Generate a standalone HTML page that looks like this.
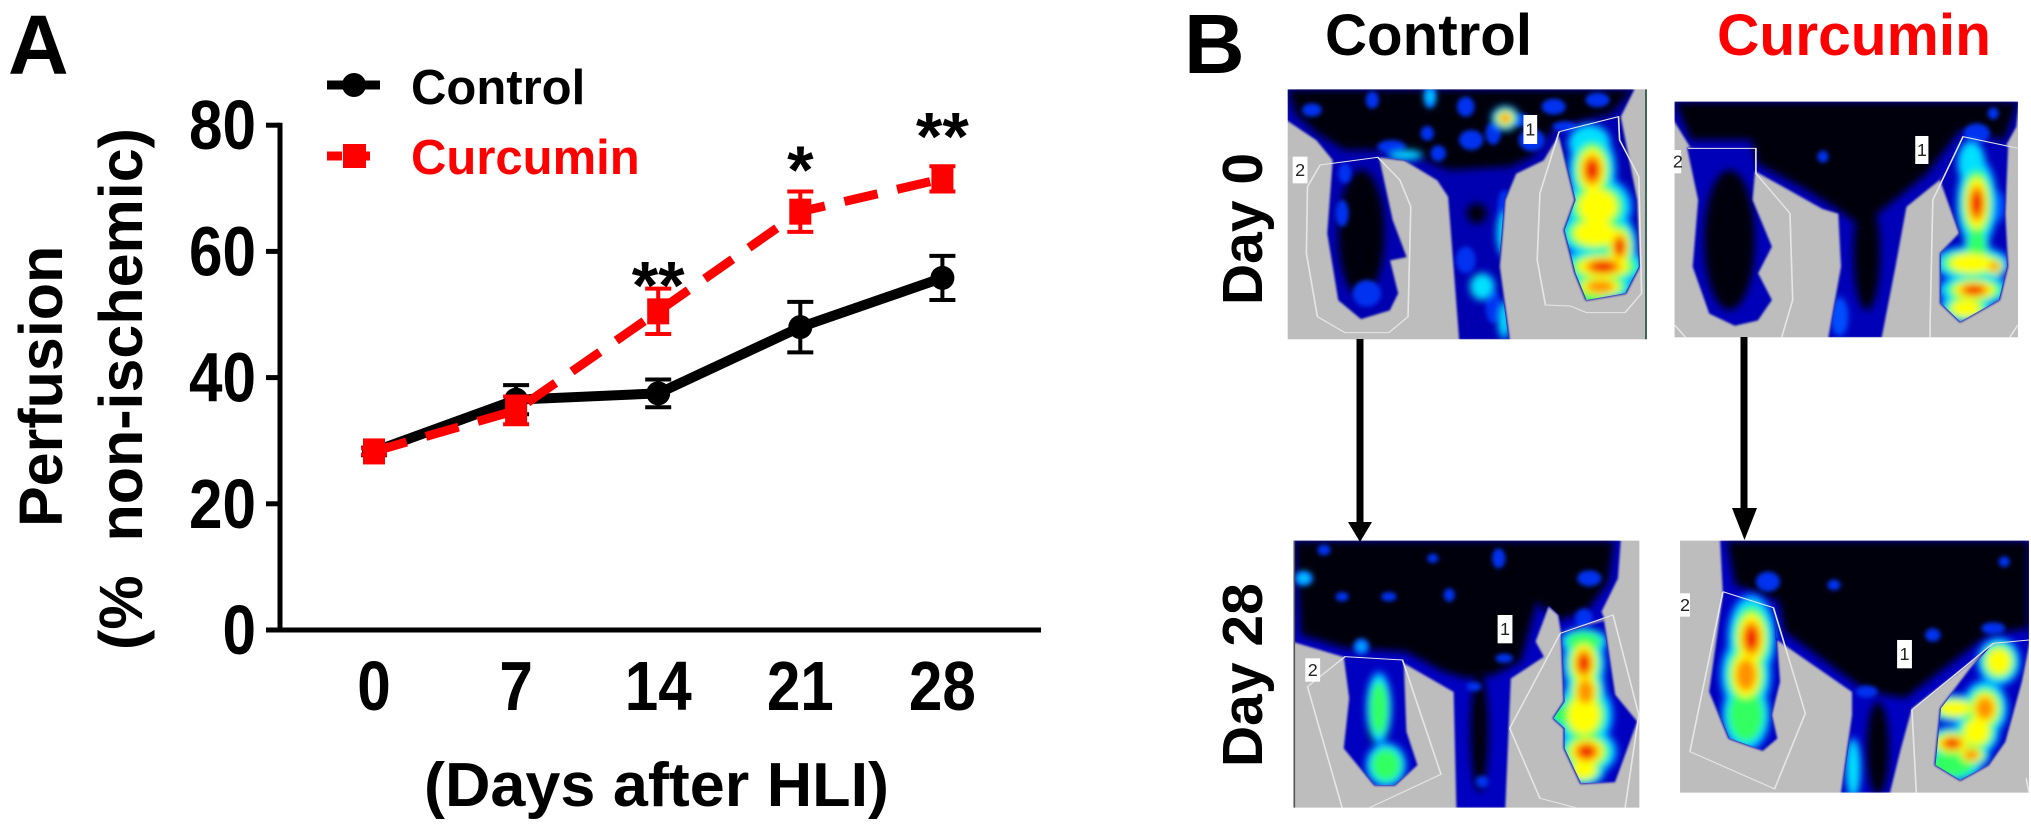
<!DOCTYPE html>
<html lang="en">
<head>
<meta charset="utf-8">
<title>Perfusion after HLI: Control vs Curcumin</title>
<style>
html,body{margin:0;padding:0;background:#fff;width:2031px;height:830px;overflow:hidden}
svg{display:block}
text{font-family:"Liberation Sans",sans-serif;font-weight:bold}
</style>
</head>
<body>
<svg id="fig" width="2031" height="830" viewBox="0 0 2031 830" xmlns="http://www.w3.org/2000/svg">
<defs>
<filter id="heatBlur" x="-10%" y="-10%" width="120%" height="120%"><feGaussianBlur stdDeviation="7 11"/></filter>
<filter id="darkBlur" x="-10%" y="-10%" width="120%" height="120%"><feGaussianBlur stdDeviation="7 11"/></filter>
<filter id="speckBlur" x="-5%" y="-5%" width="110%" height="110%"><feGaussianBlur stdDeviation="4 6"/></filter>
<filter id="edgeBlur" x="-10%" y="-10%" width="120%" height="120%"><feGaussianBlur stdDeviation="2 3"/></filter>
</defs>
<rect width="2031" height="830" fill="#fff"/>
<text x="8" y="74" font-size="84">A</text>
<text x="1184" y="73" font-size="84">B</text>

<g id="chart"></g>

<text transform="translate(62,527) rotate(-90)" font-size="61">Perfusion</text>
<text transform="translate(142,650) rotate(-90)" font-size="61" xml:space="preserve">(%  non-ischemic)</text>
<text x="424" y="806" font-size="62" textLength="465" lengthAdjust="spacingAndGlyphs">(Days after HLI)</text>

<g>
<line x1="327" y1="85" x2="380" y2="85" stroke="#000" stroke-width="9"/>
<circle cx="354" cy="85" r="12" fill="#000"/>
<text x="411" y="104" font-size="49">Control</text>
<line x1="327" y1="156" x2="380" y2="156" stroke="#f00" stroke-width="9" stroke-dasharray="15 13 0 0"/>
<rect x="343" y="144" width="23" height="24" fill="#f00"/>
<text x="411" y="174" font-size="49" fill="#f00">Curcumin</text>
</g>

<text x="1325" y="55" font-size="58" textLength="207" lengthAdjust="spacingAndGlyphs">Control</text>
<text x="1717" y="55" font-size="58" fill="#f00" textLength="274" lengthAdjust="spacingAndGlyphs">Curcumin</text>
<text transform="translate(1262,305) rotate(-90)" font-size="57">Day 0</text>
<text transform="translate(1262,767) rotate(-90)" font-size="57">Day 28</text>

<g id="images"></g>

<g>
<rect x="1356.5" y="339" width="7" height="186" fill="#000"/>
<polygon points="1348,522 1372,522 1360,542" fill="#000"/>
</g>
<g>
<rect x="1740.5" y="337" width="7" height="174" fill="#000"/>
<polygon points="1732,508 1757,508 1744.5,540" fill="#000"/>
</g>
</svg>

<script>
/* ---------- chart data ---------- */
var days = [0, 7, 14, 21, 28];
var dayLabels = ["0", "7", "14", "21", "28"];
var controlValues = [28.3, 36.5, 37.5, 48, 55.8];
var controlErrors = [0.6, 2.3, 2.2, 4, 3.5];
var curcuminValues = [28.3, 34.8, 50.5, 66.3, 71.5];
var curcuminErrors = [0.5, 2.2, 3.6, 3.2, 2];
var yTicks = [0, 20, 40, 60, 80];
var starLabels = ["", "", "**", "*", "**"];
var starLevels = [0, 0, 57, 75.3, 80.6];

var NS = "http://www.w3.org/2000/svg";
function mk(parent, tag, attrs) {
  var e = document.createElementNS(NS, tag);
  for (var k in attrs) e.setAttribute(k, attrs[k]);
  parent.appendChild(e);
  return e;
}
function xScale(d) { return 374 + d * 20.3; }
function yScale(v) { return 630 - v * 6.31; }

var chart = document.getElementById("chart");

/* axes */
var yAxis = mk(chart, "line", {x1: 280, y1: yScale(80) - 2.5, x2: 280, y2: yScale(0) + 2.5, stroke: "#000", "stroke-width": 5});


var xAxis = mk(chart, "line", {x1: 266, y1: yScale(0), x2: 1041, y2: yScale(0), stroke: "#000", "stroke-width": 5});



yTicks.forEach(function (t) {
  var tick = mk(chart, "line", {x1: 266, y1: yScale(t), x2: 280, y2: yScale(t), stroke: "#000", "stroke-width": 5});
  
  
  var lab = mk(chart, "text", {transform: "translate(256," + (yScale(t) + 24) + ") scale(0.86,1)", "font-size": 70, "text-anchor": "end"});
  lab.textContent = String(t);
  
  
});
days.forEach(function (d, i) {
  var lab = mk(chart, "text", {transform: "translate(" + xScale(d) + ",710) scale(0.86,1)", "font-size": 70, "text-anchor": "middle"});
  lab.textContent = dayLabels[i];
  
  
});

function pts(vals) {
  return days.map(function (d, i) { return xScale(d) + "," + yScale(vals[i]); }).join(" ");
}
function errorBars(vals, errs, color, nameStem) {
  days.forEach(function (d, i) {
    var x = xScale(d), top = yScale(vals[i] + errs[i]), bot = yScale(vals[i] - errs[i]);
    var stem = mk(chart, "path", {
      d: "M" + x + " " + top + "V" + bot + "M" + (x - 13) + " " + top + "H" + (x + 13) + "M" + (x - 13) + " " + bot + "H" + (x + 13),
      stroke: color, "stroke-width": 4, fill: "none"
    });
    
    
  });
}

/* control series */
errorBars(controlValues, controlErrors, "#000", "control-error-bar");
var controlLine = mk(chart, "polyline", {points: pts(controlValues), fill: "none", stroke: "#000", "stroke-width": 10});


days.forEach(function (d, i) {
  var c = mk(chart, "circle", {cx: xScale(d), cy: yScale(controlValues[i]), r: 12, fill: "#000"});
  
  
});

/* curcumin series */
errorBars(curcuminValues, curcuminErrors, "#f00", "curcumin-error-bar");
var curcuminLine = mk(chart, "polyline", {points: pts(curcuminValues), fill: "none", stroke: "#f00", "stroke-width": 9, "stroke-dasharray": "34 20"});


days.forEach(function (d, i) {
  var r = mk(chart, "rect", {x: xScale(d) - 11, y: yScale(curcuminValues[i]) - 13, width: 22, height: 26, fill: "#f00"});
  
  
});

/* significance stars */
days.forEach(function (d, i) {
  if (!starLabels[i]) return;
  var s = mk(chart, "text", {x: xScale(d), y: yScale(starLevels[i]) + 38, "font-size": 68, "text-anchor": "middle"});
  s.textContent = starLabels[i];
  
  
});

/* ---------- perfusion images (drawn from blurred shapes) ---------- */
var heatColors = ["#0050ff", "#00e0ff", "#30ff60", "#ffff00", "#ff9000", "#f00000"];
var heatRadii = [1, 0.86, 0.7, 0.54, 0.38, 0.24];

var panels = [
  {
    name: "day-0-control", oy: 0, rect: [196, 268, 654, 750], base: "#0000b0",
    body: "196,268 825,268 800,350 690,400 660,480 610,520 590,600 580,800 598,1018 510,1018 490,590 470,540 410,480 360,470 280,480 250,420 196,360",
    legL: "280,480 360,470 385,660 410,770 380,780 395,880 380,930 330,955 290,900 270,700",
    legR: "690,400 800,350 830,600 835,800 810,880 740,900 720,820 700,690 720,600",
    darkPoly: "196,268 825,268 785,340 680,385 640,470 600,500 490,510 400,450 300,450 250,400 210,340",
    dark: [[330,700,42,190],[540,640,18,30],[545,860,12,30]],
    speck: [[350,300,12,26],[455,290,10,34],[520,320,16,30],[385,440,26,20],[470,460,14,24],[530,420,22,30],[570,400,14,34],[680,320,22,24],[760,300,22,22],[240,330,18,20],[640,420,24,34],[450,400,12,22],[300,520,12,30],[340,880,26,40],[295,640,12,40],[700,380,22,16],[620,360,16,20],[520,780,18,40],[590,620,12,50],[570,920,14,50]],
    hot: [[592,355,22,32,4],[550,860,20,36,1],[590,700,12,60,1],[410,465,28,13,1],[590,960,10,50,1],[455,290,8,26,1],
      [750,510,38,100,5],[745,430,34,50,1],[760,620,55,80,3],[755,700,60,60,3],[770,800,72,50,5],[800,740,28,80,5],[765,860,55,40,4],[745,890,32,30,2]],
    roi: ["255,495 360,472 400,540 420,620 415,950 380,998 300,998 250,950 230,760 232,560 255,495",
      "690,395 798,350 800,420 835,530 840,880 810,938 740,938 710,918 665,915 650,780 655,580 690,395"],
    labels: [["1",625,345,25,87],["2",205,470,27,80]], edge: "right"
  },
  {
    name: "day-0-curcumin", oy: 0, rect: [900, 305, 625, 707], base: "#0000b8",
    body: "900,305 1525,305 1520,380 1500,440 1425,410 1380,540 1320,620 1300,800 1275,1012 1182,1012 1205,800 1200,640 1170,625 1100,560 1045,510 1048,450 930,440 900,360",
    legL: "925,445 1048,445 1040,600 1075,740 1050,820 1075,900 1050,960 1010,975 965,940 935,800 945,600",
    legR: "1425,410 1505,440 1500,640 1505,800 1490,900 1420,965 1385,910 1385,760 1420,700 1385,540",
    darkPoly: "900,305 1525,305 1500,420 1420,390 1360,520 1300,600 1240,680 1190,620 1130,560 1050,490 1040,420 930,420",
    dark: [[1000,720,46,210],[1250,760,24,170]],
    speck: [[1170,470,10,18],[1450,400,24,30],[1200,950,14,50],[1480,340,10,18]],
    hot: [[1200,950,12,50,0],
      [1450,610,32,120,5],[1450,740,20,60,2],[1440,790,62,45,3],[1445,870,58,42,5],[1482,800,20,32,4],[1430,925,42,40,3],[1440,490,22,60,1],[1485,620,16,40,0]],
    roi: ["925,445 1048,445 1048,520 1110,640 1115,900 1095,1012",
      "900,975 920,1012",
      "1365,1012 1365,970 1370,600 1425,410 1525,445",
      "1510,1012 1525,975"],
    labels: [["1",1338,408,24,84],["2",900,450,12,70]], edge: ""
  },
  {
    name: "day-28-control", oy: 415, rect: [208, 377, 628, 801], base: "#0000c0",
    body: "208,377 800,377 795,490 765,590 770,610 695,650 690,600 670,570 645,680 660,725 600,790 590,1178 505,1178 500,830 405,740 300,725 208,680",
    legL: "300,725 405,735 410,950 430,1050 390,1110 355,1110 300,1000 310,850",
    legR: "695,655 770,620 790,840 830,920 810,1010 790,1100 730,1105 700,1000 700,940 680,910 700,860",
    darkPoly: "208,377 790,377 780,500 740,590 680,620 650,560 630,680 620,740 570,780 520,790 480,770 410,710 300,700 220,660",
    dark: [[545,950,16,180],[360,950,16,40]],
    speck: [[225,490,16,20],[262,405,12,16],[330,695,14,24],[550,1100,12,18],[735,610,16,30],[295,545,12,14],[380,545,14,14],[745,490,22,24],[590,730,16,14],[535,815,14,14],[490,540,10,20],[580,430,12,30],[460,430,10,14]],
    hot: [[225,490,12,16,1],[330,695,8,14,1],
      [362,880,20,95,2],[375,1050,32,58,2],
      [735,745,34,90,5],[738,830,32,80,4],[740,1010,48,62,5],[735,900,46,90,3],[700,900,30,34,2],[735,1065,34,42,3],[735,680,38,35,2]],
    roi: ["232,815 300,725 405,735 475,1078 345,1178",
      "232,815 295,1178",
      "692,655 788,600 835,900 810,1178",
      "692,655 600,940 655,1150 720,1178"],
    labels: [["1",578,600,27,85],["2",228,730,27,70]], edge: "left"
  },
  {
    name: "day-28-curcumin", oy: 415, rect: [910, 377, 635, 756], base: "#0000c0",
    body: "985,377 1545,377 1545,675 1480,685 1330,880 1310,1000 1290,1133 1205,1133 1225,900 1225,830 1085,670 1080,580 990,535",
    legL: "990,535 1080,580 1090,800 1075,900 1085,970 1060,1005 1000,970 965,830",
    legR: "1480,685 1545,675 1530,800 1500,980 1470,1050 1420,1095 1375,1050 1385,880 1440,760",
    darkPoly: "995,377 1545,377 1545,640 1470,660 1320,850 1250,830 1100,650 1090,560 1010,510",
    dark: [[1270,1000,20,140]],
    speck: [[1070,500,22,30],[1190,510,12,16],[1500,440,10,16],[1480,640,22,18],[1250,830,20,18],[1370,660,14,20]],
    hot: [[1225,1060,12,80,1],
      [1040,670,38,115,5],[1030,780,40,105,4],[1030,900,38,95,2],
      [1490,740,34,62,3],[1465,880,36,74,4],[1410,880,46,36,3],[1405,985,44,44,5],[1440,1020,30,34,4],[1405,1050,48,44,2],[1450,950,36,62,3]],
    roi: ["988,530 1080,578 1138,895 1082,1122 928,1010 988,530",
      "1340,1133 1332,885 1480,685 1545,675",
      "1540,1090 1545,1133"],
    labels: [["1",1305,675,27,85],["2",910,535,18,70]], edge: ""
  }
];

var images = document.getElementById("images");
panels.forEach(function (p, pi) {
  var g = mk(images, "g", {transform: "translate(1180," + p.oy + ") scale(0.5495,0.3333)"});
  
  

  var cid = "clip" + pi;
  var defs = mk(g, "defs", {});
  var clip = mk(defs, "clipPath", {id: cid});
  mk(clip, "polygon", {points: p.body});
  mk(clip, "polygon", {points: p.legL});
  mk(clip, "polygon", {points: p.legR});
  var frameId = "frame" + pi;
  var frame = mk(defs, "clipPath", {id: frameId});
  mk(frame, "rect", {x: p.rect[0], y: p.rect[1], width: p.rect[2], height: p.rect[3]});

  var bg = mk(g, "rect", {x: p.rect[0], y: p.rect[1], width: p.rect[2], height: p.rect[3], fill: "#bdbdbd"});
  
  

  var tissue = mk(g, "g", {"clip-path": "url(#" + frameId + ")"});
  
  
  var tissueBlur = mk(tissue, "g", {filter: "url(#edgeBlur)"});
  [p.body, p.legL, p.legR].forEach(function (s) {
    mk(tissueBlur, "polygon", {points: s, fill: p.base, stroke: p.base, "stroke-width": 4});
  });

  var inner = mk(g, "g", {"clip-path": "url(#" + cid + ")"});
  var darkG = mk(inner, "g", {filter: "url(#darkBlur)"});
  
  
  mk(darkG, "polygon", {points: p.darkPoly, fill: "#00000a"});
  p.dark.forEach(function (d) {
    mk(darkG, "ellipse", {cx: d[0], cy: d[1], rx: d[2], ry: d[3], fill: "#00000a"});
  });

  var speckG = mk(inner, "g", {filter: "url(#speckBlur)"});
  
  
  p.speck.forEach(function (s) {
    mk(speckG, "ellipse", {cx: s[0], cy: s[1], rx: s[2], ry: s[3], fill: "#0030f0"});
  });

  var heatG = mk(inner, "g", {filter: "url(#heatBlur)"});
  
  
  heatColors.forEach(function (col, lvl) {
    p.hot.forEach(function (h) {
      if (h[4] < lvl) return;
      mk(heatG, "ellipse", {cx: h[0], cy: h[1], rx: h[2] * heatRadii[lvl] * 1.2, ry: h[3] * heatRadii[lvl] * 1.2, fill: col});
    });
  });

  p.roi.forEach(function (s) {
    var r = mk(g, "polyline", {points: s, fill: "none", stroke: "#e6e6e6", "stroke-width": 3, "clip-path": "url(#" + frameId + ")"});
    
    
  });

  p.labels.forEach(function (l) {
    var box = mk(g, "rect", {x: l[1], y: l[2], width: l[3], height: l[4], fill: "#fff"});
    
    
    var t = mk(g, "text", {
      transform: "translate(" + (l[1] + l[3] / 2) + "," + (l[2] + l[4] / 2 + 18) + ") scale(1.82,3)",
      "font-size": 18, "text-anchor": "middle", fill: "#222"
    });
    t.style.fontWeight = "normal";
    t.textContent = l[0];
    
    
  });

  if (p.edge === "right") {
    var er = mk(g, "line", {x1: 848, y1: p.rect[1], x2: 848, y2: p.rect[1] + p.rect[3], stroke: "#254", "stroke-width": 3});
    
    
  }
  if (p.edge === "left") {
    var el = mk(g, "line", {x1: 208, y1: p.rect[1], x2: 208, y2: p.rect[1] + p.rect[3], stroke: "#555", "stroke-width": 3});
    
    
  }
});
</script>
</body>
</html>
